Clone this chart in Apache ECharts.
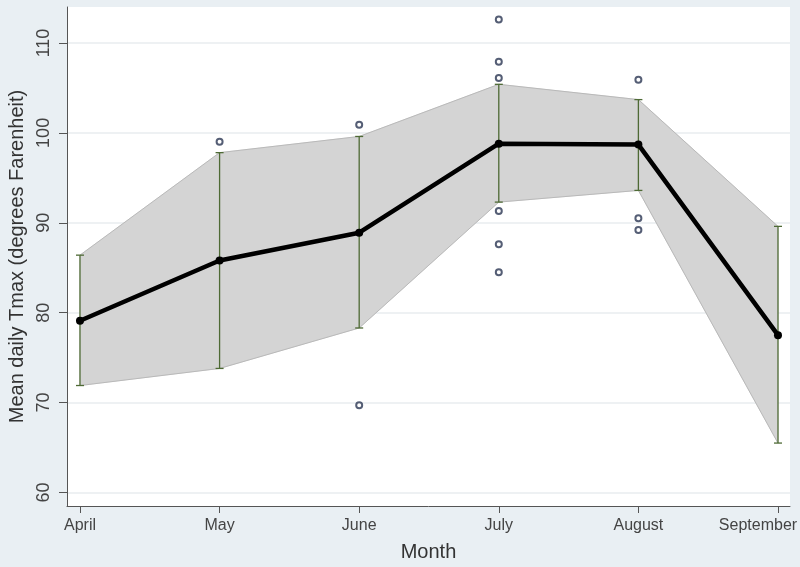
<!DOCTYPE html>
<html>
<head>
<meta charset="utf-8">
<script src="https://cdn.jsdelivr.net/npm/echarts@6/dist/echarts.min.js"></script>
<style>
  html, body { margin: 0; padding: 0; background: #e9eff3; }
  #main { width: 800px; height: 567px; }
</style>
</head>
<body>
<div id="main"></div>
<script>
// data
var months = ['April', 'May', 'June', 'July', 'August', 'September'];
var meanTmax = [79.1, 85.8, 88.9, 98.8, 98.7, 77.5];
var upperTmax = [86.4, 97.8, 99.6, 105.4, 103.7, 89.6];
var lowerTmax = [71.9, 73.8, 78.3, 92.3, 93.6, 65.5];
var outliers = [
    [],
    [99.0],
    [100.9, 69.7],
    [112.6, 107.9, 106.1, 91.3, 87.6, 84.5],
    [105.9, 90.5, 89.2],
    []
];
var yTicks = [60, 70, 80, 90, 100, 110];
var xTicks = [0, 1, 2, 3, 4, 5];

var fontName = 'Liberation Sans';

var meanData = meanTmax.map(function (v, i) { return [i, v]; });
var barData = months.map(function (m, i) { return [i, lowerTmax[i], upperTmax[i]]; });
// one band segment between each pair of neighbouring months
var bandData = [];
for (var i = 0; i < months.length - 1; i++) {
    bandData.push([i, lowerTmax[i], upperTmax[i], lowerTmax[i + 1], upperTmax[i + 1]]);
}
var outlierData = [];
outliers.forEach(function (list, i) {
    list.forEach(function (v) { outlierData.push([i, v]); });
});

var myChart = echarts.init(document.getElementById('main'));

var option = {
    backgroundColor: '#e9eff3',
    animation: false,
    grid: {
        left: 67,
        right: 10,
        top: 7,
        bottom: 61,
        outerBoundsMode: 'none',
        containLabel: false,
        show: true,
        backgroundColor: '#ffffff',
        borderWidth: 0
    },
    xAxis: {
        type: 'value',
        min: -0.093,
        max: 5.086,
        name: 'Month',
        nameLocation: 'middle',
        nameGap: 36,
        nameTextStyle: { fontFamily: fontName, fontSize: 20, color: '#333' },
        axisLine: { show: true, onZero: false, lineStyle: { color: '#555', width: 1 } },
        axisTick: { show: true, length: 7, customValues: xTicks, lineStyle: { color: '#555' } },
        axisLabel: {
            customValues: xTicks,
            margin: 12,
            fontFamily: fontName,
            fontSize: 16,
            color: '#444',
            formatter: function (v) {
                var i = Math.round(v);
                // last label is pushed left so it stays inside the picture
                return i === months.length - 1 ? '{last|' + months[i] + '}' : months[i];
            },
            rich: {
                last: { fontFamily: fontName, fontSize: 16, color: '#444', padding: [0, 40, 0, 0] }
            }
        },
        splitLine: { show: false }
    },
    yAxis: {
        type: 'value',
        min: 58.5,
        max: 114,
        name: 'Mean daily Tmax (degrees Farenheit)',
        nameLocation: 'middle',
        nameGap: 40,
        nameTextStyle: { fontFamily: fontName, fontSize: 20, color: '#333' },
        axisLine: { show: true, onZero: false, lineStyle: { color: '#555', width: 1 } },
        axisTick: { show: true, length: 8, customValues: yTicks, lineStyle: { color: '#555' } },
        axisLabel: {
            customValues: yTicks,
            rotate: 90,
            margin: 14,
            fontFamily: fontName,
            fontSize: 18,
            color: '#444'
        },
        splitLine: { show: true, lineStyle: { color: '#e8edef', width: 1.5 } }
    },
    series: [
        {
            name: 'band',
            type: 'custom',
            data: bandData,
            z: 1,
            renderItem: function (params, api) {
                var x0 = api.value(0);
                var x1 = x0 + 1;
                var pts = [
                    api.coord([x0, api.value(2)]),
                    api.coord([x1, api.value(4)]),
                    api.coord([x1, api.value(3)]),
                    api.coord([x0, api.value(1)])
                ];
                return {
                    type: 'group',
                    children: [
                        { type: 'polygon', shape: { points: pts }, style: { fill: '#d4d4d4', stroke: '#d4d4d4', lineWidth: 0.6 } },
                        { type: 'line', shape: { x1: pts[0][0], y1: pts[0][1], x2: pts[1][0], y2: pts[1][1] }, style: { stroke: '#b9b9b9', lineWidth: 1 } },
                        { type: 'line', shape: { x1: pts[3][0], y1: pts[3][1], x2: pts[2][0], y2: pts[2][1] }, style: { stroke: '#b9b9b9', lineWidth: 1 } }
                    ]
                };
            }
        },
        {
            name: 'range',
            type: 'custom',
            data: barData,
            z: 3,
            renderItem: function (params, api) {
                var x = api.value(0);
                var lo = api.coord([x, api.value(1)]);
                var hi = api.coord([x, api.value(2)]);
                var cap = 4;
                var style = { stroke: '#4e6a35', lineWidth: 1.3 };
                return {
                    type: 'group',
                    children: [
                        { type: 'line', shape: { x1: hi[0], y1: hi[1], x2: lo[0], y2: lo[1] }, style: style },
                        { type: 'line', shape: { x1: hi[0] - cap, y1: hi[1], x2: hi[0] + cap, y2: hi[1] }, style: style },
                        { type: 'line', shape: { x1: lo[0] - cap, y1: lo[1], x2: lo[0] + cap, y2: lo[1] }, style: style }
                    ]
                };
            }
        },
        {
            name: 'mean',
            type: 'line',
            data: meanData,
            symbol: 'circle',
            symbolSize: 8,
            itemStyle: { color: '#000' },
            lineStyle: { color: '#000', width: 4.5 },
            z: 5
        },
        {
            name: 'outliers',
            type: 'scatter',
            data: outlierData,
            symbol: 'emptyCircle',
            symbolSize: 6,
            itemStyle: { color: '#2b3652', borderColor: '#2b3652', borderWidth: 1.6 },
            z: 6
        }
    ]
};

myChart.setOption(option);
</script>
</body>
</html>
